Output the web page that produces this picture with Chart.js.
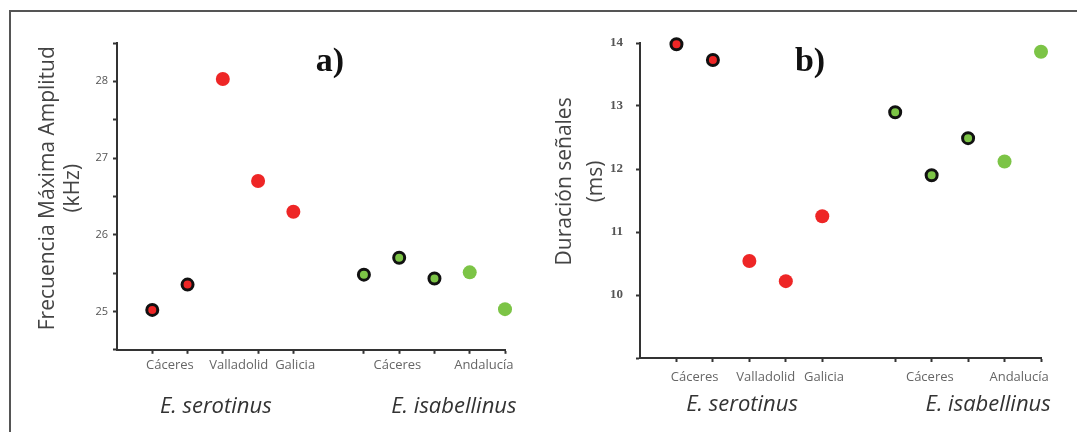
<!DOCTYPE html>
<html>
<head>
<meta charset="utf-8">
<script src="https://cdn.jsdelivr.net/npm/chart.js@4/dist/chart.umd.min.js"></script>
<style>
  html, body { margin: 0; padding: 0; background: #fff; }
  #wrap { position: relative; width: 1077px; height: 432px; overflow: hidden; }
  #frame { position: absolute; left: 9px; top: 10px; width: 1100px; height: 440px;
           border-top: 2px solid #555; border-left: 2px solid #555; }
  canvas { position: absolute; top: 0; }
  #chartA { left: 0; }
  #chartB { left: 537px; }
</style>
</head>
<body>
<div id="wrap">
  <div id="frame"></div>
  <canvas id="chartA" width="537" height="432"></canvas>
  <canvas id="chartB" width="540" height="432"></canvas>
</div>
<script>
// slot on the x axis for each population (slot 5 is the gap between species)
const slotsSerotinus = [0, 1, 2, 3, 4];
const slotsIsabellinus = [6, 7, 8, 9, 10];

const regionLabels = ['Cáceres', 'Valladolid', 'Galicia', 'Cáceres', 'Andalucía'];
const regionLabelSlots = [0.5, 2.45, 4.05, 6.95, 9.4];
const speciesLabels = ['E. serotinus', 'E. isabellinus'];
const speciesLabelSlots = [1.8, 8.55];

// a) frecuencia de máxima amplitud (kHz)
const freqSerotinus = [25.02, 25.35, 28.03, 26.7, 26.3];
const freqIsabellinus = [25.48, 25.7, 25.43, 25.51, 25.03];

// b) duración de las señales (ms)
const durSerotinus = [13.98, 13.73, 10.54, 10.22, 11.25];
const durIsabellinus = [12.9, 11.9, 12.49, 12.12, 13.86];

const RED = '#ee2626';
const GREEN = '#7cc446';
const RING = '#111';
const AXIS = '#333';
const REGION_FONT = 13;
const SPECIES_FONT = 22;

const panelLetter = {
  id: 'panelLetter',
  afterDatasetsDraw(chart, args, opts) {
    const { ctx, chartArea } = chart;
    ctx.save();
    ctx.font = 'bold 34px "Liberation Serif", serif';
    ctx.fillStyle = '#111';
    ctx.textAlign = 'center';
    ctx.textBaseline = 'alphabetic';
    ctx.fillText(opts.text,
      chartArea.left + chartArea.width * opts.x,
      chartArea.top + chartArea.height * opts.y);
    ctx.restore();
  },
};

function makeDataset(xs, ys, color, ringed) {
  return {
    data: xs.map((x, i) => ({ x, y: ys[i] })),
    showLine: false,
    clip: false,
    pointBackgroundColor: color,
    pointBorderColor: (c) => (c.dataIndex < ringed ? RING : color),
    pointBorderWidth: (c) => (c.dataIndex < ringed ? 3 : 0),
    pointRadius: (c) => (c.dataIndex < ringed ? 5.5 : 7),
    pointHoverRadius: (c) => (c.dataIndex < ringed ? 5.5 : 7),
  };
}

// label-only axes: fixed height, and no extra side padding for wide labels
function labelAxisFit(height) {
  return (scale) => {
    scale.height = height;
    scale.paddingLeft = 0;
    scale.paddingRight = 0;
  };
}

function buildChart(canvasId, cfg) {
  return new Chart(document.getElementById(canvasId), {
    type: 'scatter',
    data: {
      datasets: [
        makeDataset(slotsSerotinus, cfg.serotinus, RED, 2),
        makeDataset(slotsIsabellinus, cfg.isabellinus, GREEN, 3),
      ],
    },
    options: {
      responsive: false,
      animation: false,
      layout: { padding: { left: 0, top: 43, right: cfg.padRight, bottom: cfg.padBottom } },
      plugins: {
        legend: { display: false },
        tooltip: { enabled: false },
        panelLetter: cfg.letter,
      },
      scales: {
        x: {
          type: 'linear',
          position: 'bottom',
          min: -1,
          max: 10,
          afterBuildTicks: (axis) => {
            axis.ticks = [...slotsSerotinus, ...slotsIsabellinus].map((value) => ({ value }));
          },
          ticks: { display: false },
          grid: { drawOnChartArea: false, tickLength: 4, tickColor: AXIS, tickWidth: 2 },
          border: { color: AXIS, width: 2 },
        },
        regions: {
          type: 'linear',
          position: 'bottom',
          min: -1,
          max: 10,
          afterBuildTicks: (axis) => {
            axis.ticks = regionLabelSlots.map((value) => ({ value }));
          },
          afterFit: labelAxisFit(cfg.regionPad + REGION_FONT * 1.2),
          ticks: {
            autoSkip: false,
            maxRotation: 0,
            padding: cfg.regionPad,
            color: '#666',
            font: { family: '"Open Sans", sans-serif', size: REGION_FONT },
            callback: (v, i) => regionLabels[i],
          },
          grid: { display: false, drawTicks: false },
          border: { display: false },
        },
        species: {
          type: 'linear',
          position: 'bottom',
          min: -1,
          max: 10,
          afterBuildTicks: (axis) => {
            axis.ticks = speciesLabelSlots.map((value) => ({ value }));
          },
          afterFit: labelAxisFit(cfg.speciesPad + SPECIES_FONT * 1.2),
          ticks: {
            autoSkip: false,
            maxRotation: 0,
            padding: cfg.speciesPad,
            color: '#333',
            font: { family: '"Open Sans", sans-serif', size: SPECIES_FONT, style: 'italic' },
            callback: (v, i) => speciesLabels[i],
          },
          grid: { display: false, drawTicks: false },
          border: { display: false },
        },
        y: {
          min: cfg.yMin,
          max: cfg.yMax,
          afterFit: (scale) => { scale.width = cfg.axisLeft; },
          ticks: {
            stepSize: cfg.yStep,
            padding: cfg.yTickPad,
            color: '#555',
            font: cfg.yTickFont,
            callback: (v) => (Number.isInteger(v) && v > cfg.yMin ? v : ''),
          },
          grid: { drawOnChartArea: false, tickLength: 4, tickColor: AXIS, tickWidth: 2 },
          border: { color: AXIS, width: 2 },
          title: {
            display: true,
            text: cfg.yTitle,
            color: '#444',
            font: { family: '"Open Sans", sans-serif', size: 21, lineHeight: cfg.titleLineHeight },
            padding: { top: cfg.titlePad, bottom: 0 },
          },
        },
      },
    },
    plugins: [panelLetter],
  });
}

buildChart('chartA', {
  serotinus: freqSerotinus,
  isabellinus: freqIsabellinus,
  yMin: 24.5,
  yMax: 28.5,
  yStep: 0.5,
  yTitle: ['   Frecuencia Máxima Amplitud', '   (kHz)'],
  titleLineHeight: 1.22,
  titlePad: 35,
  axisLeft: 117,
  yTickPad: 5,
  yTickFont: { family: '"Open Sans", sans-serif', size: 11 },
  padRight: 32,
  padBottom: 11.8,
  regionPad: 3.2,
  speciesPad: 21.2,
  letter: { text: 'a)', x: 0.549, y: 0.091 },
});

buildChart('chartB', {
  serotinus: durSerotinus,
  isabellinus: durIsabellinus,
  yMin: 9,
  yMax: 14,
  yStep: 1,
  yTitle: ['       Duración señales', '       (ms)'],
  titleLineHeight: 1.45,
  titlePad: 13,
  axisLeft: 103,
  yTickPad: 13,
  yTickFont: { family: '"Liberation Serif", serif', size: 13, weight: 'bold' },
  padRight: 36,
  padBottom: 13.8,
  regionPad: 7.2,
  speciesPad: 7,
  letter: { text: 'b)', x: 0.424, y: 0.089 },
});
</script>
</body>
</html>
